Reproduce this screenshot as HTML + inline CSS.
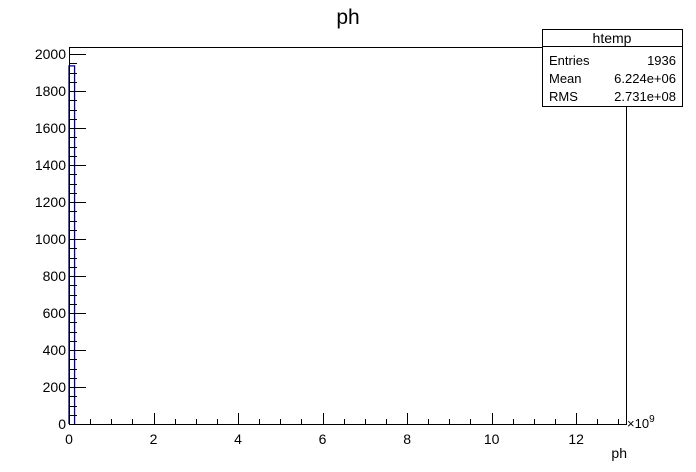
<!DOCTYPE html>
<html><head><meta charset="utf-8"><style>
body{margin:0;background:#fff}
svg{display:block;font-family:"Liberation Sans",sans-serif}
</style></head><body>
<svg width="696" height="472">
<rect width="696" height="472" fill="#fff"/>
<text x="348" y="24" text-anchor="middle" font-size="21">ph</text>
<g id="plot"></g>
<text x="627" y="458" text-anchor="end" font-size="14">ph</text>
<text x="627" y="428" font-size="13">×10<tspan dy="-6" font-size="10">9</tspan></text>
<g>
<rect x="542.5" y="29.5" width="140" height="77" fill="#fff" stroke="#000"/>
<line x1="542" y1="46.5" x2="683" y2="46.5" stroke="#000"/>
<text x="612" y="43" text-anchor="middle" font-size="14">htemp</text>
<text x="549" y="65" font-size="13">Entries</text><text x="676" y="65" text-anchor="end" font-size="13">1936</text>
<text x="549" y="83" font-size="13">Mean</text><text x="676" y="83" text-anchor="end" font-size="13">6.224e+06</text>
<text x="549" y="101" font-size="13">RMS</text><text x="676" y="101" text-anchor="end" font-size="13">2.731e+08</text>
</g>
</svg>
<script>
const binEdgesLow=[0];
const binCounts=[1936];
const binWidth=0.132;
const xTicks=[0,2,4,6,8,10,12];
const yTicks=[0,200,400,600,800,1000,1200,1400,1600,1800,2000];
const L=69,R=626,T=47,B=424,xmax=13.18,ymax=2038;
const X=v=>L+v/xmax*(R-L), Y=v=>B-v/ymax*(B-T);
const g=document.getElementById('plot');const NS='http://www.w3.org/2000/svg';
function mk(t,a){const e=document.createElementNS(NS,t);for(const k in a)e.setAttribute(k,a[k]);g.appendChild(e);return e;}
binCounts.forEach((c,i)=>{
 const x0=X(binEdgesLow[i]),x1=X(binEdgesLow[i]+binWidth);
 const p=mk('path',{d:`M${x0},${B} V${Y(c)} H${x1} V${B}`,fill:'none',stroke:'#000099','stroke-width':1.3});
 
 
});
const fr=mk('rect',{x:L+.5,y:T+.5,width:R-L,height:B-T,fill:'none',stroke:'#000'});


for(let v=0;v<=xmax;v+=0.5){const x=Math.round(X(v))+.5;const maj=Math.abs(v/2-Math.round(v/2))<1e-6;
 mk('line',{x1:x,x2:x,y1:B,y2:B-(maj?11:5),stroke:'#000'});}
xTicks.forEach(v=>{const t=mk('text',{x:X(v),y:B+20,'text-anchor':'middle','font-size':14});t.textContent=v;
 
 });
for(let v=0;v<=ymax;v+=50){const y=Math.round(Y(v))+.5;const maj=v%200===0;
 mk('line',{x1:L,x2:L+(maj?17:8),y1:y,y2:y,stroke:'#000'});}
yTicks.forEach(v=>{const t=mk('text',{x:L-3,y:Y(v)+5,'text-anchor':'end','font-size':14});t.textContent=v;
 
 });
</script>
</body></html>
